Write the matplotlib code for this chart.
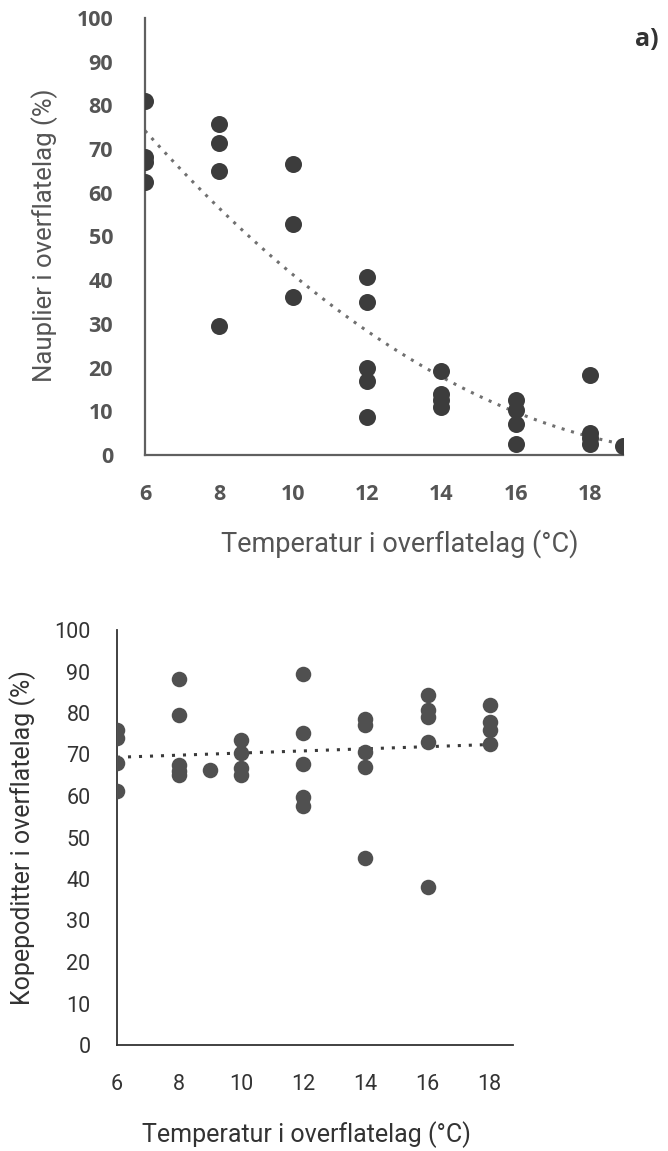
import numpy as np
import matplotlib.pyplot as plt

# a) Nauplier i overflatelag vs temperatur
naup_temp = [6, 6, 6, 6, 8, 8, 8, 8, 10, 10, 10, 12, 12, 12, 12, 12,
             14, 14, 14, 14, 16, 16, 16, 16, 18, 18, 18, 18, 18.9]
naup_pct = [81, 68.2, 67, 62.5, 75.7, 71.4, 65, 29.5, 66.6, 52.9, 36.2,
            40.7, 35, 20, 17, 8.7, 19.2, 14, 12.5, 11, 12.6, 10.3, 7.1, 2.5,
            18.3, 5, 4, 2.5, 2]

# b) Kopepoditter i overflatelag vs temperatur
kope_temp = [6, 6, 6, 6, 8, 8, 8, 8, 8, 9, 10, 10, 10, 10,
             12, 12, 12, 12, 12, 14, 14, 14, 14, 14,
             16, 16, 16, 16, 16, 18, 18, 18, 18]
kope_pct = [76, 74, 68, 61.2, 88.2, 79.5, 67.5, 66, 65, 66.3, 73.5, 70.4, 66.7, 65,
            89.4, 75.2, 67.7, 59.8, 57.6, 78.5, 77, 70.6, 67, 45,
            84.3, 80.7, 79, 73, 38, 82, 77.8, 75.9, 72.5]

x_ticks = [6, 8, 10, 12, 14, 16, 18]
y_ticks = list(range(0, 101, 10))
x_title = 'Temperatur i overflatelag (°C)'

fig = plt.figure(figsize=(6.68, 11.51), dpi=100)
W, H = 668, 1151

cond = ['Roboto', 'DejaVu Sans']

# ---- top panel ----
ax1 = fig.add_axes([145 / W, 1 - 455 / H, 478 / W, 437 / H])
ax1.scatter(naup_temp, naup_pct, s=150, color='#3c3c3c', zorder=3, linewidths=0)
c2 = np.polyfit(naup_temp, naup_pct, 2)
xs = np.linspace(min(naup_temp), max(naup_temp), 100)
ax1.plot(xs, np.polyval(c2, xs), linestyle=(0, (1, 2.2)), lw=2.2, color='#707070', zorder=2)
ax1.set_xlim(6, 18.9)
ax1.set_ylim(0, 100)
ax1.set_xticks(x_ticks)
ax1.set_yticks(y_ticks)
for s in ['top', 'right']:
    ax1.spines[s].set_visible(False)
for s in ['left', 'bottom']:
    ax1.spines[s].set_color('#606060')
    ax1.spines[s].set_linewidth(1.6)
ax1.tick_params(length=0, labelsize=15.5, labelcolor='#555555')
ax1.tick_params(axis='y', pad=23)
ax1.tick_params(axis='x', pad=21)
for lab in ax1.get_xticklabels() + ax1.get_yticklabels():
    lab.set_fontweight('bold')
    lab.set_family(['Open Sans', 'DejaVu Sans'])
fig.text(400 / W, 1 - 544 / H, x_title, ha='center', va='center',
         fontsize=19.5, color='#555555', family=cond)
fig.text(45 / W, 1 - 235 / H, 'Nauplier i overflatelag (%)', ha='center', va='center',
         rotation=90, fontsize=18.5, color='#555555', family=cond)
fig.text(647 / W, 1 - 40 / H, 'a)', ha='center', va='center',
         fontsize=18, fontweight='bold', color='#333333', family=['Open Sans', 'DejaVu Sans'])

# ---- bottom panel ----
ax2 = fig.add_axes([117 / W, 1 - 1045 / H, 396 / W, 415 / H])
ax2.scatter(kope_temp, kope_pct, s=125, color='#505050', zorder=3, linewidths=0)
c1 = np.polyfit(kope_temp, kope_pct, 1)
xs2 = np.linspace(min(kope_temp), max(kope_temp), 50)
ax2.plot(xs2, np.polyval(c1, xs2), linestyle=(0, (1, 2.6)), lw=2.2, color='#3a3a3a', zorder=2)
ax2.set_xlim(6, 18.75)
ax2.set_ylim(0, 100)
ax2.set_xticks(x_ticks)
ax2.set_yticks(y_ticks)
for s in ['top', 'right']:
    ax2.spines[s].set_visible(False)
for s in ['left', 'bottom']:
    ax2.spines[s].set_color('#333333')
    ax2.spines[s].set_linewidth(1.3)
ax2.tick_params(length=0, labelsize=15.5, labelcolor='#333333')
ax2.tick_params(axis='y', pad=19)
ax2.tick_params(axis='x', pad=21)
for lab in ax2.get_xticklabels() + ax2.get_yticklabels():
    lab.set_family(cond)
fig.text(306 / W, 1 - 1135 / H, x_title, ha='center', va='center',
         fontsize=18, color='#333333', family=cond)
fig.text(23 / W, 1 - 838 / H, 'Kopepoditter i overflatelag (%)', ha='center', va='center',
         rotation=90, fontsize=18, color='#333333', family=cond)

fig.savefig('out.png', dpi=100, facecolor='white')
